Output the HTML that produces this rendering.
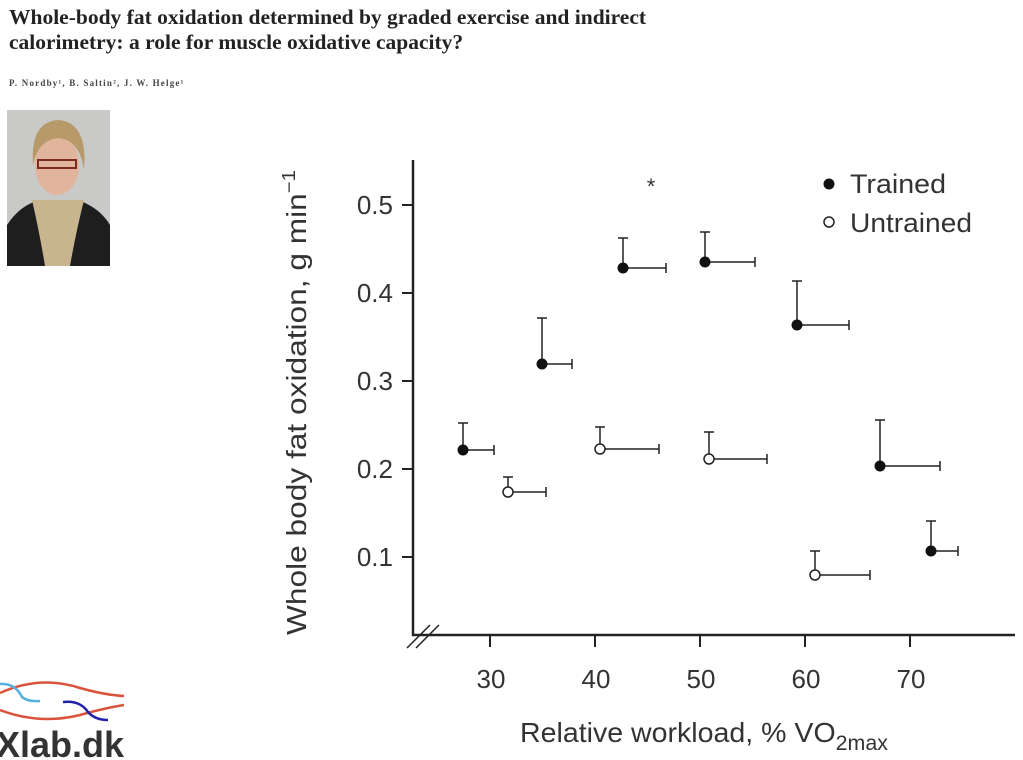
<!DOCTYPE html>
<html><head><meta charset="utf-8"><style>
html,body{margin:0;padding:0;background:#fff;}
body{width:1023px;height:760px;position:relative;overflow:hidden;font-family:"Liberation Sans",sans-serif;}
.t{position:absolute;left:9px;top:5px;font-family:"Liberation Serif",serif;font-weight:bold;font-size:21.5px;line-height:25px;color:#222;}
.a{position:absolute;left:9px;top:78px;font-family:"Liberation Serif",serif;font-weight:bold;font-size:9px;letter-spacing:1.2px;color:#444;}
</style></head><body>
<div class="t">Whole-body fat oxidation determined by graded exercise and indirect<br>calorimetry: a role for muscle oxidative capacity?</div>
<div class="a">P. Nordby¹, B. Saltin², J. W. Helge¹</div>
<svg width="1023" height="760" style="position:absolute;left:0;top:0" font-family="Liberation Sans, sans-serif">
<rect x="7" y="110" width="103" height="156" fill="#c9c9c7"/>
<path d="M7 266 L7 225 Q20 205 40 200 L78 200 Q100 208 110 225 L110 266Z" fill="#1e1e1e"/>
<path d="M32 200 Q40 235 45 266 L70 266 Q76 232 84 200Z" fill="#c8b58f"/>
<ellipse cx="57" cy="165" rx="22" ry="30" fill="#e0b59c"/>
<path d="M33 165 Q30 122 58 120 Q88 122 84 170 Q80 140 58 138 Q38 140 33 165Z" fill="#b89a6a"/>
<rect x="38" y="160" width="38" height="8" fill="none" stroke="#7a2a1e" stroke-width="2"/>
<path d="M0 693 Q40 675 80 688 Q105 695 124 696" fill="none" stroke="#d9533a" stroke-width="2.5"/>
<path d="M0 710 Q40 725 80 715 Q105 708 124 705" fill="none" stroke="#d9533a" stroke-width="2.5"/>
<path d="M0 684 Q15 683 22 697 Q28 702 40 701" fill="none" stroke="#55b0e0" stroke-width="2.5"/>
<path d="M63 702 Q80 700 88 712 Q95 720 108 720" fill="none" stroke="#2222aa" stroke-width="2.5"/>
<text x="-4" y="757" font-size="36" font-weight="bold" fill="#333">Xlab.dk</text>
<g stroke="#222" stroke-width="2.5" fill="none">
<path d="M413 160 L413 635 L1015 635"/>
</g>
<g stroke="#222" stroke-width="1.5">
<line x1="407" y1="648" x2="430" y2="625"/><line x1="416" y1="648" x2="439" y2="625"/>
</g>
<g stroke="#222" stroke-width="2">
<line x1="402" y1="205" x2="413" y2="205"/><line x1="402" y1="293" x2="413" y2="293"/><line x1="402" y1="381" x2="413" y2="381"/><line x1="402" y1="469" x2="413" y2="469"/><line x1="402" y1="557" x2="413" y2="557"/>
<line x1="490" y1="635" x2="490" y2="647"/><line x1="595" y1="635" x2="595" y2="647"/><line x1="700" y1="635" x2="700" y2="647"/><line x1="805" y1="635" x2="805" y2="647"/><line x1="910" y1="635" x2="910" y2="647"/>
</g>
<g font-size="26" fill="#333" text-anchor="end">
<text x="393" y="214">0.5</text><text x="393" y="302">0.4</text><text x="393" y="390">0.3</text><text x="393" y="478">0.2</text><text x="393" y="566">0.1</text>
</g>
<g font-size="26" fill="#333" text-anchor="middle">
<text x="491" y="688">30</text><text x="596" y="688">40</text><text x="701" y="688">50</text><text x="806" y="688">60</text><text x="911" y="688">70</text>
</g>
<text x="520" y="742" font-size="28" fill="#333" textLength="368" lengthAdjust="spacingAndGlyphs">Relative workload, % VO<tspan font-size="21" dy="8">2max</tspan></text>
<text transform="translate(306,635) rotate(-90)" font-size="28" fill="#333" textLength="465" lengthAdjust="spacingAndGlyphs">Whole body fat oxidation, g min<tspan font-size="18" dy="-11">−1</tspan></text>
<text x="651" y="194" font-size="22" fill="#333" text-anchor="middle">*</text>
<g stroke="#222" stroke-width="1.5" fill="none">
<path d="M463 450V423M458 423H468M463 450H494M494 445V455"/>
<path d="M542 364V318M537 318H547M542 364H572M572 359V369"/>
<path d="M623 268V238M618 238H628M623 268H666M666 263V273"/>
<path d="M705 262V232M700 232H710M705 262H755M755 257V267"/>
<path d="M797 325V281M792 281H802M797 325H849M849 320V330"/>
<path d="M880 466V420M875 420H885M880 466H940M940 461V471"/>
<path d="M931 551V521M926 521H936M931 551H958M958 546V556"/>
<path d="M508 492V477M503 477H513M508 492H546M546 487V497"/>
<path d="M600 449V427M595 427H605M600 449H659M659 444V454"/>
<path d="M709 459V432M704 432H714M709 459H767M767 454V464"/>
<path d="M815 575V551M810 551H820M815 575H870M870 570V580"/>
</g>
<g fill="#111">
<circle cx="463" cy="450" r="5.5"/><circle cx="542" cy="364" r="5.5"/><circle cx="623" cy="268" r="5.5"/><circle cx="705" cy="262" r="5.5"/><circle cx="797" cy="325" r="5.5"/><circle cx="880" cy="466" r="5.5"/><circle cx="931" cy="551" r="5.5"/>
<circle cx="829" cy="184" r="5.5"/>
</g>
<g fill="#fff" stroke="#222" stroke-width="1.5">
<circle cx="508" cy="492" r="5"/><circle cx="600" cy="449" r="5"/><circle cx="709" cy="459" r="5"/><circle cx="815" cy="575" r="5"/>
<circle cx="829" cy="222" r="5"/>
</g>
<text x="850" y="193" font-size="27" fill="#333" textLength="96" lengthAdjust="spacingAndGlyphs">Trained</text>
<text x="850" y="232" font-size="27" fill="#333" textLength="122" lengthAdjust="spacingAndGlyphs">Untrained</text>
</svg>
</body></html>
